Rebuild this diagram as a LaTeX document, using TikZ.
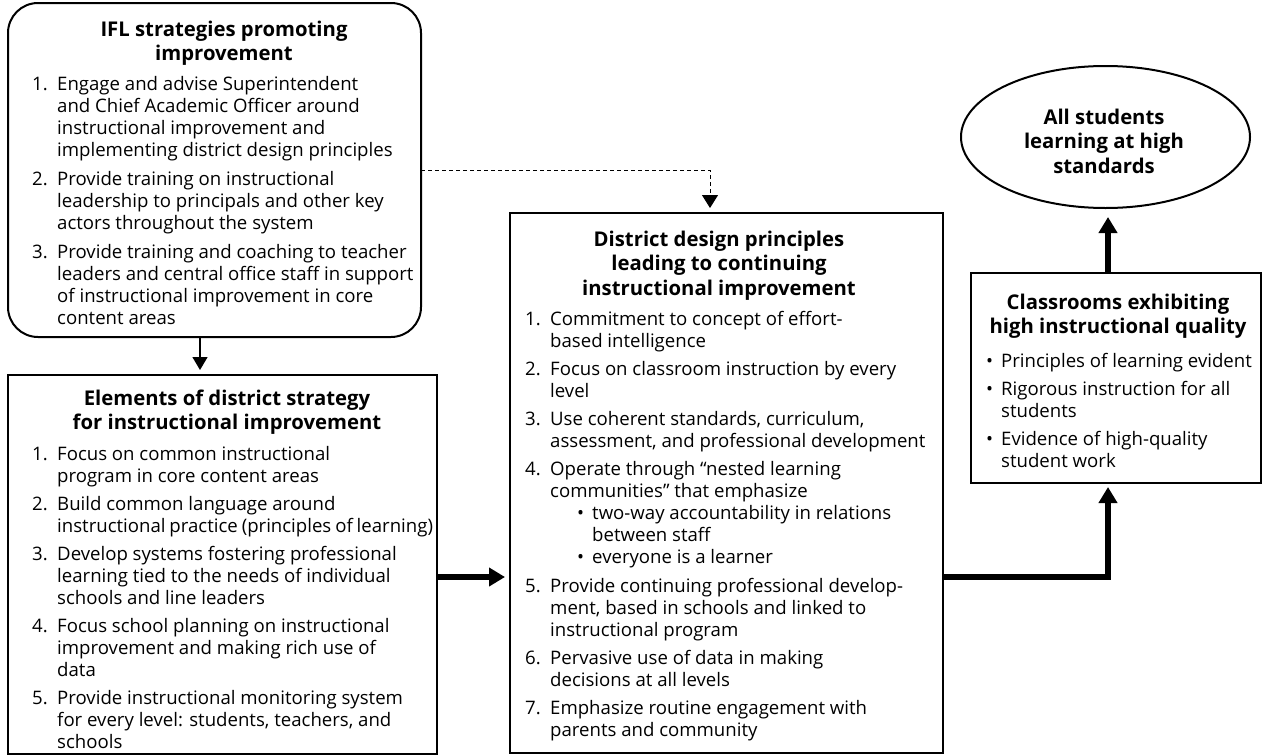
\documentclass[tikz,border=0pt]{standalone}
\usepackage{fontspec}
\setmainfont{Open Sans}
\usetikzlibrary{arrows.meta,shapes.geometric}

% text settings
\newcommand\bodyfont{\fontsize{18.6}{22}\selectfont}
\newcommand\ttlfont{\bfseries\fontsize{20.3}{24.6}\selectfont}

% numbered entry with hanging text
\newcommand\numitem[2]{\par\noindent\hangindent=25pt\hangafter=1\makebox[25pt][l]{#1}#2\par}
% bullet entry nested under a numbered entry
\newcommand\subbullet[1]{\par\vspace{-\parskip}\noindent\hangindent=67pt\hangafter=1\hspace*{52pt}\makebox[15pt][l]{\textbullet}#1\par}
% plain bullet entry
\newcommand\bulitem[1]{\par\noindent\hangindent=15pt\hangafter=1\makebox[15pt][l]{\textbullet}#1\par}
% list block
\newcommand\listblock[3]{\parbox[t]{#1}{\bodyfont\setlength\rightskip{0pt plus 1fil}\setlength\parskip{#2}#3}}
\newcommand\titleblock[2]{\parbox[t]{#1}{\ttlfont\centering #2}}
% slightly tighter word spacing for one long line
\newcommand\tightline[1]{{\spaceskip=3.9pt\relax #1}}

\tikzset{
  box/.style={draw, line width=2pt, inner sep=0pt, outer sep=0pt, anchor=north west},
  ttl/.style={anchor=base, inner sep=0pt},
  lst/.style={anchor=base west, inner sep=0pt},
  thin arrow/.style={line width=1.3pt, -{Triangle[length=13pt,width=15pt]}, shorten >=5pt},
  fat arrow/.style={line width=5.5pt, -{Triangle[length=16pt,width=18pt]}, line join=miter},
  dash arrow/.style={line width=1pt, dash pattern=on 4pt off 3pt, -{Triangle[length=13pt,width=16pt]}, shorten >=5pt},
}

\begin{document}
\begin{tikzpicture}[x=1pt,y=-1pt]
\useasboundingbox (0,0) rectangle (1263,755);

% ---- frames ----
\node[box, rounded corners=30pt, minimum width=413pt, minimum height=334pt] (ifl) at (8,3) {};
\node[box, minimum width=429pt, minimum height=379pt] (elem) at (8,375) {};
\node[box, minimum width=433pt, minimum height=540pt] (dist) at (510,213) {};
\node[box, minimum width=290pt, minimum height=210pt] (class) at (971,273) {};
\node[ellipse, draw, line width=2pt, minimum width=289pt, minimum height=142pt,
      inner sep=0pt, outer sep=0pt] (goal) at (1105.5,137) {};
\node[align=center, font=\ttlfont, inner sep=0pt] (goal-t) at (1104,141)
      {All students\\learning at high\\standards};

% ---- IFL strategies ----
\node[ttl] (ifl-t) at (224,36) {\titleblock{380pt}{IFL strategies promoting\\improvement}};
\node[lst] (ifl-l) at (32,90) {\listblock{460pt}{7pt}{%
\numitem{1.}{Engage and advise Superintendent\\and Chief Academic Officer around\\instructional improvement and\\implementing district design principles}
\numitem{2.}{Provide training on instructional\\leadership to principals and other key\\actors throughout the system}
\numitem{3.}{Provide training and coaching to teacher\\leaders and central office staff in support\\of instructional improvement in core\\content areas}}};

% ---- elements of district strategy ----
\node[ttl] (elem-t) at (227,405) {\titleblock{400pt}{Elements of district strategy\\for instructional improvement}};
\node[lst] (elem-l) at (32,460) {\listblock{460pt}{6pt}{%
\numitem{1.}{Focus on common instructional\\program in core content areas}
\numitem{2.}{Build common language around\\\tightline{instructional practice (principles of learning)}}
\numitem{3.}{Develop systems fostering professional\\learning tied to the needs of individual\\schools and line leaders}
\numitem{4.}{Focus school planning on instructional\\improvement and making rich use of\\data}
\numitem{5.}{Provide instructional monitoring system\\for every level: students, teachers, and\\schools}}};

% ---- district design principles ----
\node[ttl] (dist-t) at (719,246) {\titleblock{410pt}{District design principles\\leading to continuing\\instructional improvement}};
\node[lst] (dist-l) at (525,325) {\listblock{460pt}{6.3pt}{%
\numitem{1.}{Commitment to concept of effort-\\based intelligence}
\numitem{2.}{Focus on classroom instruction by every\\level}
\numitem{3.}{Use coherent standards, curriculum,\\assessment, and professional development}
\numitem{4.}{Operate through “nested learning\\communities” that emphasize}
\subbullet{two-way accountability in relations\\between staff}
\subbullet{everyone is a learner}
\numitem{5.}{Provide continuing professional develop-\\ment, based in schools and linked to\\instructional program}
\numitem{6.}{Pervasive use of data in making\\decisions at all levels}
\numitem{7.}{Emphasize routine engagement with\\parents and community}}};

% ---- classrooms ----
\node[ttl] (class-t) at (1118,309) {\titleblock{280pt}{Classrooms exhibiting\\high instructional quality}};
\node[lst] (class-l) at (986,367) {\listblock{300pt}{6pt}{%
\bulitem{Principles of learning evident}
\bulitem{Rigorous instruction for all\\students}
\bulitem{Evidence of high-quality\\student work}}};

% ---- connectors ----
\coordinate (ax) at (200,0);
\coordinate (dx) at (710,0);
\coordinate (jy) at (0,577);
\coordinate (cx) at (1108,0);

\draw[thin arrow] (ifl.south -| ax) -- (elem.north -| ax);
\draw[dash arrow] (ifl.east) -| (dist.north -| dx);
\draw[fat arrow, shorten >=5pt] (elem.east |- jy) -- (dist.west |- jy);
\draw[fat arrow, shorten >=4pt] (dist.east |- jy) -| (class.south -| cx);
\draw[fat arrow, shorten >=9pt] (class.north -| cx) -- (goal.south -| cx);
\end{tikzpicture}
\end{document}
